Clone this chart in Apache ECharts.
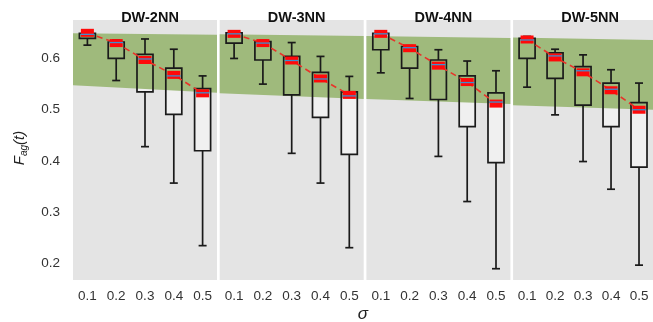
<!DOCTYPE html>
<html>
<head>
<meta charset="utf-8">
<script src="https://cdn.jsdelivr.net/npm/echarts@6/dist/echarts.min.js"></script>
<style>html,body{margin:0;padding:0;background:#fff;}#c{width:653px;height:322px;}</style>
</head>
<body>
<div id="c"></div>
<script>
var panelTitles = ['DW-2NN', 'DW-3NN', 'DW-4NN', 'DW-5NN'];
var sigmas = ['0.1', '0.2', '0.3', '0.4', '0.5'];
var yTicks = [0.2, 0.3, 0.4, 0.5, 0.6];

// per panel: lower whisker, Q1, median, Q3, upper whisker, mean
var low2 = [0.626, 0.557, 0.428, 0.357, 0.235];
var q1_2 = [0.639, 0.600, 0.535, 0.491, 0.420];
var med2 = [0.647, 0.631, 0.599, 0.566, 0.533];
var q3_2 = [0.649, 0.632, 0.608, 0.581, 0.541];
var high2 = [0.651, 0.636, 0.638, 0.618, 0.566];
var mean2 = [0.650, 0.630, 0.597, 0.568, 0.532];

var low3 = [0.600, 0.550, 0.415, 0.357, 0.231];
var q1_3 = [0.630, 0.597, 0.529, 0.485, 0.413];
var med3 = [0.648, 0.630, 0.596, 0.560, 0.527];
var q3_3 = [0.650, 0.633, 0.604, 0.573, 0.535];
var high3 = [0.652, 0.635, 0.631, 0.604, 0.565];
var mean3 = [0.648, 0.630, 0.596, 0.561, 0.529];

var low4 = [0.572, 0.522, 0.409, 0.321, 0.190];
var q1_4 = [0.617, 0.581, 0.520, 0.467, 0.397];
var med4 = [0.648, 0.621, 0.588, 0.553, 0.515];
var q3_4 = [0.649, 0.623, 0.597, 0.566, 0.533];
var high4 = [0.652, 0.625, 0.617, 0.595, 0.576];
var mean4 = [0.648, 0.620, 0.586, 0.554, 0.512];

var low5 = [0.544, 0.490, 0.399, 0.345, 0.197];
var q1_5 = [0.600, 0.561, 0.509, 0.467, 0.388];
var med5 = [0.636, 0.605, 0.576, 0.540, 0.500];
var q3_5 = [0.639, 0.611, 0.584, 0.552, 0.514];
var high5 = [0.643, 0.618, 0.607, 0.578, 0.552];
var mean5 = [0.637, 0.602, 0.573, 0.538, 0.500];

// green band per panel: [top-left, top-right, bottom-left, bottom-right]
var band2 = [0.649, 0.646, 0.548, 0.533];
var band3 = [0.647, 0.644, 0.532, 0.521];
var band4 = [0.644, 0.640, 0.521, 0.511];
var band5 = [0.641, 0.636, 0.509, 0.500];

var panels = [
  {low: low2, q1: q1_2, med: med2, q3: q3_2, high: high2, mean: mean2, band: band2},
  {low: low3, q1: q1_3, med: med3, q3: q3_3, high: high3, mean: mean3, band: band3},
  {low: low4, q1: q1_4, med: med4, q3: q3_4, high: high4, mean: mean4, band: band4},
  {low: low5, q1: q1_5, med: med5, q3: q3_5, high: high5, mean: mean5, band: band5}
];

var GRID_LEFT = 73, GRID_W = 144, GRID_STEP = 146.7, GRID_TOP = 20, GRID_H = 260;
var Y_MIN = 0.168, Y_MAX = 0.675;
var BOX_W = 16, CAP_W = 8;
var FONT = "'Liberation Sans', Arial, sans-serif";

var chart = echarts.init(document.getElementById('c'), null, {renderer: 'canvas'});

var grids = [], xAxes = [], yAxes = [], series = [], titles = [];

panels.forEach(function (p, i) {
  var left = GRID_LEFT + i * GRID_STEP;
  grids.push({left: left, top: GRID_TOP, width: GRID_W, height: GRID_H,
    show: true, backgroundColor: '#e4e4e4', borderWidth: 0, containLabel: false});
  xAxes.push({type: 'category', gridIndex: i, data: sigmas, boundaryGap: true,
    axisLine: {show: false}, axisTick: {show: false}, splitLine: {show: false},
    axisLabel: {color: '#333', fontSize: 13.5, fontFamily: FONT, margin: 9}});
  yAxes.push({type: 'value', gridIndex: i, min: Y_MIN, max: Y_MAX,
    axisLine: {show: false}, axisTick: {show: false}, splitLine: {show: false},
    axisLabel: {show: i === 0, customValues: yTicks, color: '#333', fontSize: 13.5, fontFamily: FONT, margin: 13,
      formatter: function (v) { return v.toFixed(1); }}});
  titles.push({text: panelTitles[i], left: left + GRID_W / 2, top: 5, textAlign: 'center',
    textStyle: {fontSize: 14.5, fontWeight: 'bold', color: '#111', fontFamily: FONT}});

  var boxData = sigmas.map(function (s, k) {
    return [k, p.low[k], p.q1[k], p.med[k], p.q3[k], p.high[k]];
  });

  // box fill (semi-transparent white), under the band
  series.push({type: 'custom', xAxisIndex: i, yAxisIndex: i, z: 1, silent: true,
    data: boxData,
    renderItem: function (params, api) {
      var x = api.coord([api.value(0), api.value(2)])[0];
      var yq1 = api.coord([api.value(0), api.value(2)])[1];
      var yq3 = api.coord([api.value(0), api.value(4)])[1];
      return {type: 'rect', shape: {x: x - BOX_W / 2, y: yq3, width: BOX_W, height: yq1 - yq3},
        style: {fill: 'rgba(255,255,255,0.45)', stroke: null}};
    }});

  // green band
  series.push({type: 'custom', xAxisIndex: i, yAxisIndex: i, z: 2, silent: true,
    data: [[0].concat(p.band)],
    renderItem: function (params, api) {
      var cs = params.coordSys;
      var ytl = api.coord([0, api.value(1)])[1];
      var ytr = api.coord([0, api.value(2)])[1];
      var ybl = api.coord([0, api.value(3)])[1];
      var ybr = api.coord([0, api.value(4)])[1];
      return {type: 'polygon',
        shape: {points: [[cs.x, ytl], [cs.x + cs.width, ytr], [cs.x + cs.width, ybr], [cs.x, ybl]]},
        style: {fill: '#9fba7c', stroke: null}};
    }});

  // box outlines and whiskers
  series.push({type: 'custom', xAxisIndex: i, yAxisIndex: i, z: 3, silent: true,
    data: boxData,
    renderItem: function (params, api) {
      var idx = api.value(0);
      var pl = api.coord([idx, api.value(1)]);
      var pq1 = api.coord([idx, api.value(2)]);
      var pq3 = api.coord([idx, api.value(4)]);
      var ph = api.coord([idx, api.value(5)]);
      var x = pl[0];
      var st = {stroke: '#1a1a1a', lineWidth: 1.7, fill: null};
      return {type: 'group', children: [
        {type: 'line', shape: {x1: x, y1: pl[1], x2: x, y2: pq1[1]}, style: st},
        {type: 'line', shape: {x1: x, y1: pq3[1], x2: x, y2: ph[1]}, style: st},
        {type: 'line', shape: {x1: x - CAP_W / 2, y1: pl[1], x2: x + CAP_W / 2, y2: pl[1]}, style: st},
        {type: 'line', shape: {x1: x - CAP_W / 2, y1: ph[1], x2: x + CAP_W / 2, y2: ph[1]}, style: st},
        {type: 'rect', shape: {x: x - BOX_W / 2, y: pq3[1], width: BOX_W, height: pq1[1] - pq3[1]}, style: st}
      ]};
    }});

  // mean: red dashed line with red rectangular markers
  series.push({type: 'line', xAxisIndex: i, yAxisIndex: i, z: 4, silent: true,
    data: p.mean, symbol: 'rect', symbolSize: [13, 8], showSymbol: true,
    lineStyle: {color: '#e8332a', width: 1.6, type: [6, 4]},
    itemStyle: {color: '#ff0a0a', borderWidth: 0}});

  // median line (blue)
  series.push({type: 'custom', xAxisIndex: i, yAxisIndex: i, z: 5, silent: true,
    data: boxData,
    renderItem: function (params, api) {
      var pm = api.coord([api.value(0), api.value(3)]);
      return {type: 'line', shape: {x1: pm[0] - BOX_W / 2 + 1, y1: pm[1], x2: pm[0] + BOX_W / 2 - 1, y2: pm[1]},
        style: {stroke: '#3f8fcf', lineWidth: 1.3}};
    }});
});

chart.setOption({
  animation: false,
  backgroundColor: '#ffffff',
  title: titles,
  grid: grids,
  xAxis: xAxes,
  yAxis: yAxes,
  series: series,
  graphic: [
    {type: 'text', x: 20, y: 148, rotation: Math.PI / 2,
      style: {text: '{i|F}{s|ag}{i|(t)}', align: 'center', verticalAlign: 'middle',
        rich: {
          i: {fontSize: 15, fontStyle: 'italic', fontFamily: FONT, fill: '#222', color: '#222', lineHeight: 18, verticalAlign: 'middle'},
          s: {fontSize: 10, fontStyle: 'italic', fontFamily: FONT, fill: '#222', color: '#222', lineHeight: 10, verticalAlign: 'bottom', padding: [9, 0, 0, 0]}
        }}},
    {type: 'text', x: 363, y: 314,
      style: {text: 'σ', align: 'center', verticalAlign: 'middle', fontSize: 17, fontStyle: 'italic', fontFamily: FONT, fill: '#222'}}
  ]
});
</script>
</body>
</html>
